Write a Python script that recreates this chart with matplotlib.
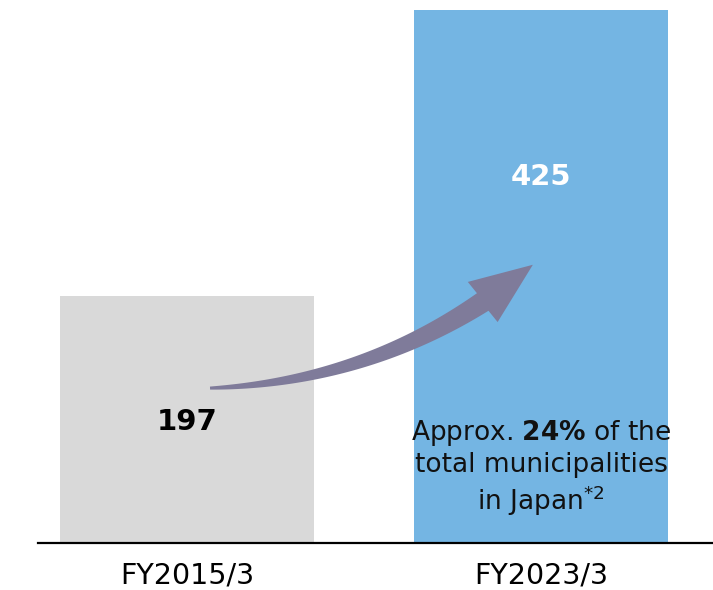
import numpy as np
import matplotlib.pyplot as plt
from matplotlib.patches import Polygon
from matplotlib.transforms import IdentityTransform

# chart data
categories = ['FY2015/3', 'FY2023/3']
values = [197, 425]
bar_colors = ['#d9d9d9', '#74b5e3']
label_colors = ['black', 'white']
note_lines = ['Approx. $\\mathbf{24\\%}$ of the', 'total municipalities', 'in Japan$^{*2}$']


def tapered_arrow(ax, start, end, rad, w0, w1, head_w, head_l, color):
    # curved arrow, thin at the start and widening toward the head (pixel sizes)
    p0 = ax.transData.transform(start)
    p2 = ax.transData.transform(end)
    d = p2 - p0
    p1 = (p0 + p2) / 2 + rad * np.array([d[1], -d[0]])
    t = np.linspace(0, 1, 300)[:, None]
    curve = (1 - t) ** 2 * p0 + 2 * (1 - t) * t * p1 + t ** 2 * p2
    s = np.concatenate([[0], np.cumsum(np.hypot(*np.diff(curve, axis=0).T))])
    k = np.searchsorted(s, s[-1] - head_l)
    pts = curve[:k]
    tang = np.gradient(pts, axis=0)
    tang /= np.hypot(*tang.T)[:, None]
    norm = np.column_stack([-tang[:, 1], tang[:, 0]])
    w = w0 + (w1 - w0) * (s[:k] / s[k - 1]) ** 0.9
    left = pts + norm * w[:, None] / 2
    right = pts - norm * w[:, None] / 2
    base = pts[-1]
    hd = (p2 - base) / np.hypot(*(p2 - base))
    hn = np.array([-hd[1], hd[0]])
    head = [base + hn * head_w / 2, p2, base - hn * head_w / 2]
    poly = np.vstack([left, head, right[::-1]])
    ax.add_patch(Polygon(poly, closed=True, transform=IdentityTransform(),
                         facecolor=color, edgecolor='none', zorder=3))


fig = plt.figure(figsize=(7.13, 5.9), dpi=100)
ax = fig.add_axes([38 / 713, 47 / 590, 675 / 713, 533 / 590])

x = list(range(len(categories)))
ax.bar(x, values, width=0.7175, color=bar_colors, zorder=1)
ax.set_xlim(-0.421, 1.486)
ax.set_ylim(0, max(values))

# value labels
ax.text(x[0], values[0] * 0.49, str(values[0]), ha='center', va='center',
        fontsize=21, fontweight='bold', color=label_colors[0])
ax.text(x[1], values[1] * 0.687, str(values[1]), ha='center', va='center',
        fontsize=21, fontweight='bold', color=label_colors[1])

# note inside the second bar
ax.text(x[1], values[1] * 0.141, '\n'.join(note_lines), ha='center', va='center',
        fontsize=19, linespacing=1.2, color='#111111')

# growth arrow from first bar to second
tapered_arrow(ax, (x[0] + 0.065, values[0] * 0.627), (x[1] - 0.023, values[1] * 0.522),
              rad=0.17, w0=3, w1=21, head_w=50, head_l=62, color='#7f7b9a')

ax.set_xticks(x)
ax.set_xticklabels(categories, fontsize=20.5)
ax.tick_params(axis='x', length=0, pad=13)
ax.set_yticks([])
for s in ['top', 'left', 'right']:
    ax.spines[s].set_visible(False)
ax.spines['bottom'].set_linewidth(1.6)

fig.savefig('out.png', dpi=100)
